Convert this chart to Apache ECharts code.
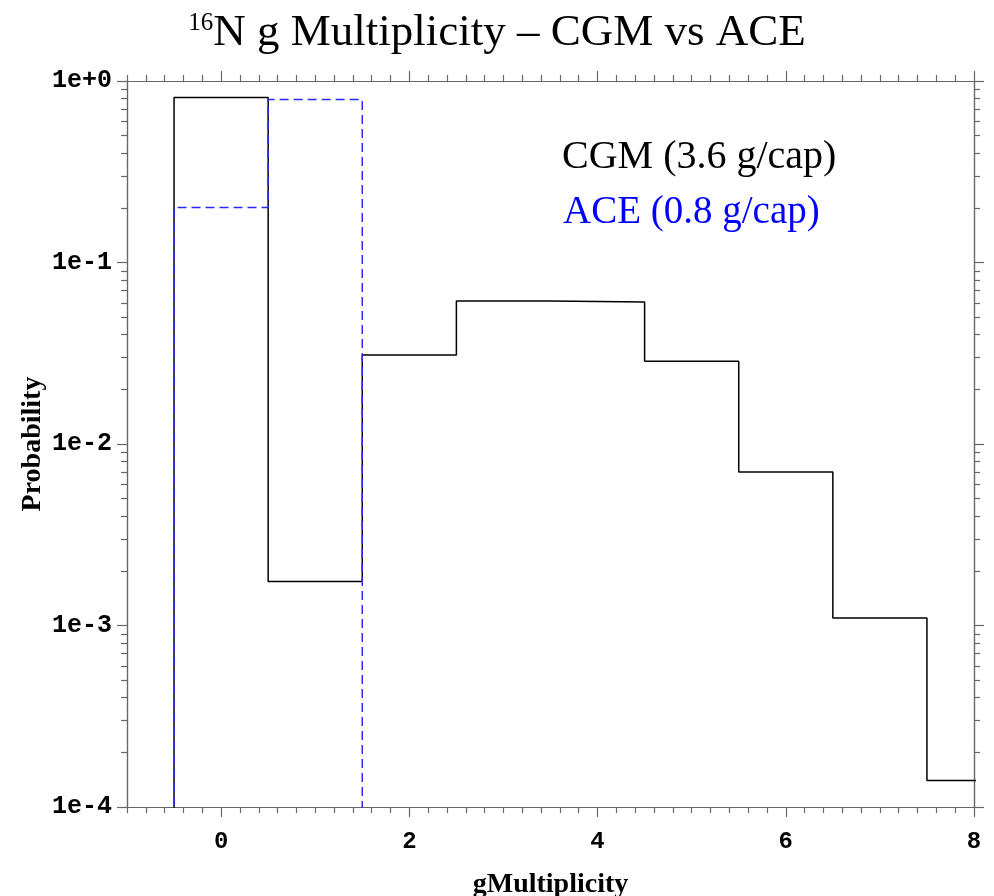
<!DOCTYPE html>
<html>
<head>
<meta charset="utf-8">
<script src="https://cdn.jsdelivr.net/npm/echarts@6/dist/echarts.min.js"></script>
<style>html,body{margin:0;padding:0;background:#fff;}#c{width:994px;height:896px;}</style>
</head>
<body>
<div id="c"></div>
<script>
// ---- data ----
var bins = [0, 1, 2, 3, 4, 5, 6, 7, 8];
var cgmValues = [0.81, 0.00175, 0.0309, 0.0613, 0.0605, 0.0286, 0.00701, 0.00110, 0.000140];
var aceBins = [0, 1];
var aceValues = [0.201, 0.79];
var xMajorTicks = [0, 2, 4, 6, 8];
var yMajorTicks = [1e-4, 1e-3, 1e-2, 1e-1, 1];
var legendLabels = ['CGM (3.6 g/cap)', 'ACE (0.8 g/cap)'];

// axis decoration tick positions
var xMinorTicks = [];
for (var i = -5; i <= 40; i++) { if (i % 10 !== 0) xMinorTicks.push(i / 5); }
var yMinorTicks = [];
for (var e = -4; e < 0; e++) { for (var m = 2; m <= 9; m++) yMinorTicks.push(m * Math.pow(10, e)); }

var FLOOR = 1e-6; // below the axis minimum -> clipped to bottom edge
function stepData(bs, vs) {
  var d = [[bs[0] - 0.5, FLOOR]];
  for (var k = 0; k < bs.length; k++) {
    d.push([bs[k] - 0.5, vs[k]]);
    d.push([bs[k] + 0.5, vs[k]]);
  }
  d.push([bs[bs.length - 1] + 0.5, FLOOR]);
  return d;
}

var axisColor = '#666';
var XMIN = -1, XMAX = 8, YMIN = 1e-4, YMAX = 1;

function xAx(pos, ticks, len, labels) {
  var o = {
    type: 'value', min: XMIN, max: XMAX, position: pos,
    axisLine: { show: true, onZero: false, lineStyle: { color: axisColor, width: 1.2 } },
    axisTick: { show: true, customValues: ticks, length: len, inside: false, lineStyle: { color: axisColor, width: 1.2 } },
    axisLabel: { show: false },
    splitLine: { show: false }
  };
  if (labels) {
    o.axisLabel = { show: true, customValues: xMajorTicks, margin: 23, color: '#000',
      fontFamily: 'Liberation Mono', fontWeight: 'bold', fontSize: 24 };
    o.name = 'gMultiplicity';
    o.nameLocation = 'middle';
    o.nameGap = 64;
    o.nameTextStyle = { fontFamily: 'Liberation Serif', fontWeight: 'bold', fontSize: 28, color: '#000' };
  }
  return o;
}
function yAx(pos, ticks, len, labels) {
  var o = {
    type: 'log', logBase: 10, min: YMIN, max: YMAX, position: pos,
    axisLine: { show: true, onZero: false, lineStyle: { color: axisColor, width: 1.2 } },
    axisTick: { show: true, customValues: ticks, length: len, inside: false, lineStyle: { color: axisColor, width: 1.2 } },
    axisLabel: { show: false },
    splitLine: { show: false }
  };
  if (labels) {
    o.axisLabel = { show: true, customValues: yMajorTicks, margin: 15, color: '#000',
      fontFamily: 'Liberation Mono', fontWeight: 'bold', fontSize: 25,
      formatter: function (v) {
        var p = Math.round(Math.log10(v));
        return '1e' + (p >= 0 ? '+' : '-') + Math.abs(p);
      } };
    o.name = 'Probability';
    o.nameLocation = 'middle';
    o.nameGap = 80;
    o.nameMoveOverlap = false;
    o.nameRotate = 90;
    o.nameTextStyle = { fontFamily: 'Liberation Serif', fontWeight: 'bold', fontSize: 28, color: '#000' };
  }
  return o;
}

var chart = echarts.init(document.getElementById('c'), null, { renderer: 'canvas' });
chart.setOption({
  backgroundColor: '#fff',
  animation: false,
  title: [
    {
      text: '{sup|16}{t|N g Multiplicity – CGM vs ACE}',
      left: 'center', top: 6,
      textStyle: { fontWeight: 'normal', rich: {
        sup: { fontFamily: 'Liberation Serif', fontWeight: 'normal', fontSize: 25, color: '#000', verticalAlign: 'top', padding: [0, 0, 20, 0] },
        t: { fontFamily: 'Liberation Serif', fontWeight: 'normal', fontSize: 45, color: '#000' }
      } }
    },
    { text: legendLabels[0], left: 557, top: 132,
      textStyle: { fontFamily: 'Liberation Serif', fontWeight: 'normal', fontSize: 40, color: '#000' } },
    { text: legendLabels[1], left: 558, top: 188,
      textStyle: { fontFamily: 'Liberation Serif', fontWeight: 'normal', fontSize: 39, color: '#0000ff' } }
  ],
  grid: { left: 127, right: 20, top: 81, bottom: 89, containLabel: false, outerBoundsMode: 'none' },
  xAxis: [
    xAx('bottom', xMajorTicks, 10, true),
    xAx('bottom', xMinorTicks, 6, false),
    xAx('top', xMajorTicks, 10, false),
    xAx('top', xMinorTicks, 6, false)
  ],
  yAxis: [
    yAx('left', yMajorTicks, 10, true),
    yAx('left', yMinorTicks, 6, false),
    yAx('right', yMajorTicks, 10, false),
    yAx('right', yMinorTicks, 6, false)
  ],
  series: [
    {
      name: 'CGM', type: 'line', xAxisIndex: 0, yAxisIndex: 0,
      data: stepData(bins, cgmValues), showSymbol: false, symbol: 'none',
      lineStyle: { color: '#000', width: 1.5 }, clip: true, z: 2
    },
    {
      name: 'ACE', type: 'line', xAxisIndex: 0, yAxisIndex: 0,
      data: stepData(aceBins, aceValues), showSymbol: false, symbol: 'none',
      lineStyle: { color: '#2a2aff', width: 1.5, type: [9, 5] }, clip: true, z: 3
    }
  ]
});
</script>
</body>
</html>
